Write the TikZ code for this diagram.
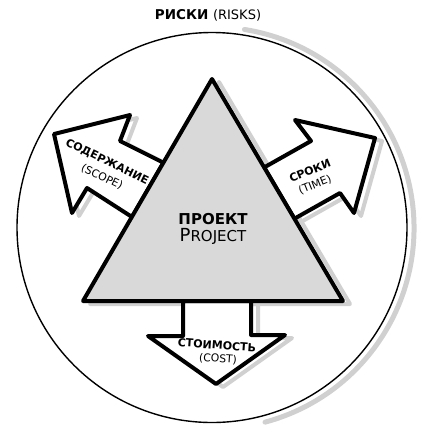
\documentclass[tikz,border=0pt]{standalone}
\usepackage{fontspec}
\setmainfont{DejaVu Sans}
\definecolor{shadowgray}{RGB}{208,208,208}
\definecolor{trifill}{RGB}{217,217,217}
\newcommand\pathTri{(212,79) -- (83,301) -- (343,301) -- cycle}
\newcommand\pathLeft{(163.4,162.7) -- (120,141) -- (130,115) -- (54,134) -- (72,213) -- (87,188) -- (132,217) -- cycle}
\newcommand\pathRight{(264.2,167.4) -- (311,141) -- (295,120) -- (375,138) -- (354,213) -- (340,193) -- (294.4,218.7) -- cycle}
\newcommand\pathDown{(183,301) -- (183,336) -- (148,336) -- (216,384) -- (285,335) -- (251,335) -- (251,301) -- cycle}
\begin{document}
\begin{tikzpicture}[x=1pt,y=-1pt,
  outl/.style={line width=4pt, line join=round, draw=black},
  shad/.style={line width=4pt, line join=round, draw=shadowgray, shift={(7,3)}},
  lbl/.style={inner sep=0pt, align=center, font=\fontsize{11}{12}\selectfont\bfseries},
  sub/.style={inner sep=0pt, align=center, font=\fontsize{10.8}{12}\selectfont}]
\useasboundingbox (0,0) rectangle (444,442);
% circle with shadow
\draw[shadowgray, line width=5pt, line cap=round] (213,228) ++(75:201) arc[start angle=75, end angle=-81, radius=201];
\draw[line width=1.4pt, fill=white] (212,227.5) circle[radius=195];
% shadows
\draw[shad] \pathLeft;
\draw[shad] \pathRight;
\draw[shad] \pathDown;
\draw[shad] \pathTri;
% arrows
\draw[outl, fill=white] \pathLeft;
\draw[outl, fill=white] \pathRight;
\draw[outl, fill=white] \pathDown;
% triangle
\draw[outl, fill=trifill] \pathTri;
% texts
\node[inner sep=0pt] (risks) at (208,15) {\fontsize{13.5}{16}\selectfont\bfseries РИСКИ \mdseries\fontsize{13}{15}\selectfont(RISKS)};
\node[inner sep=0pt] (proj1) at (213,219) {\fontsize{15}{18}\selectfont\bfseries ПРОЕКТ};
\node[inner sep=0pt] (proj2) at (213,236) {\fontsize{18}{20}\selectfont P\fontsize{15}{18}\selectfont ROJECT};
\node[lbl, rotate=-26] (scope) at (107,162) {СОДЕРЖАНИЕ};
\node[sub, rotate=-26] (scopeen) at (102,177) {(SCOPE)};
\node[lbl, rotate=22] (time) at (310,171) {СРОКИ};
\node[sub, rotate=22] (timeen) at (315,185) {(TIME)};
\node[lbl, rotate=-4] (cost) at (217,345) {СТОИМОСТЬ};
\node[sub, rotate=-4] (costen) at (218,359) {(COST)};
\end{tikzpicture}
\end{document}
